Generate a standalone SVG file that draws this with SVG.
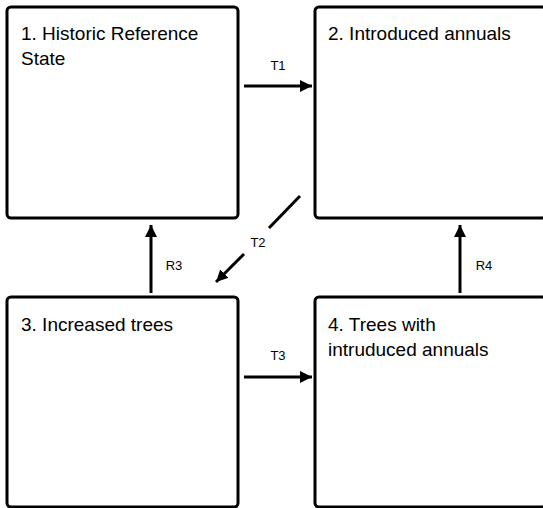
<svg xmlns="http://www.w3.org/2000/svg" width="543" height="508" viewBox="0 0 543 508">
<style>
.box{fill:#fff;stroke:#000;stroke-width:3}
.t{font-family:"Liberation Sans",Arial,sans-serif;font-size:19px;fill:#000}
.l{font-family:"Liberation Sans",Arial,sans-serif;font-size:13px;fill:#000;text-anchor:middle}
.c{stroke:#000;stroke-width:3;fill:none}
</style>
<defs>
<marker id="ah" viewBox="0 0 10 10" refX="10" refY="5" markerWidth="4" markerHeight="4" orient="auto" markerUnits="strokeWidth">
<path d="M0,0 L10,5 L0,10 z" fill="#000"/>
</marker>
</defs>
<rect width="543" height="508" fill="#fff"/>
<g id="n1">
<rect class="box" x="7" y="7" width="231" height="211" rx="4"/>
<text class="t" x="21" y="40">1. Historic Reference</text>
<text class="t" x="21" y="65">State</text>
</g>
<g id="n2">
<rect class="box" x="315" y="7" width="231" height="211" rx="4"/>
<text class="t" x="328" y="40">2. Introduced annuals</text>
</g>
<g id="n3">
<rect class="box" x="7" y="297" width="231" height="210" rx="4"/>
<text class="t" x="21" y="331">3. Increased trees</text>
</g>
<g id="n4">
<rect class="box" x="315" y="297" width="231" height="210" rx="4"/>
<text class="t" x="328" y="331">4. Trees with</text>
<text class="t" x="328" y="356">intruduced annuals</text>
</g>
<g id="connectors">
<line class="c" x1="244" y1="86" x2="312" y2="86" marker-end="url(#ah)"/>
<text class="l" x="278" y="70">T1</text>
<line class="c" x1="300" y1="196" x2="269" y2="228"/>
<line class="c" x1="244" y1="254" x2="216" y2="282" marker-end="url(#ah)"/>
<text class="l" x="258" y="247">T2</text>
<line class="c" x1="151" y1="293" x2="151" y2="225" marker-end="url(#ah)"/>
<text class="l" x="174" y="270">R3</text>
<line class="c" x1="460" y1="293" x2="460" y2="225" marker-end="url(#ah)"/>
<text class="l" x="484" y="270">R4</text>
<line class="c" x1="244" y1="377" x2="312" y2="377" marker-end="url(#ah)"/>
<text class="l" x="278" y="360">T3</text>
</g>
</svg>
